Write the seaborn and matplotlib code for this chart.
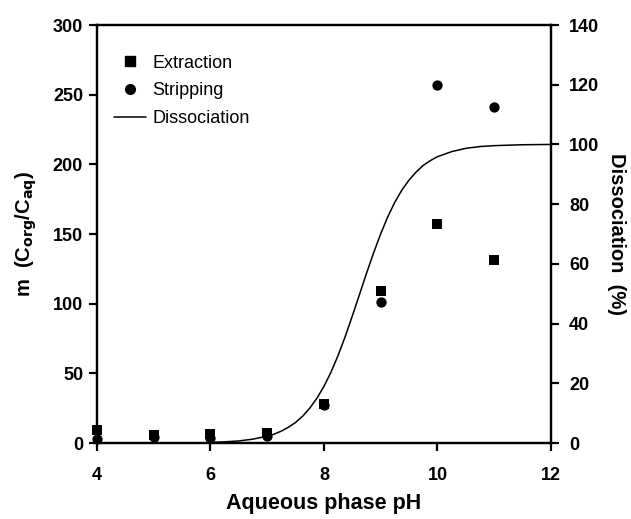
import matplotlib
matplotlib.use("Agg")
import matplotlib.pyplot as plt
from matplotlib.lines import Line2D
import seaborn as sns
import pandas as pd

# data
ph_points = [4, 5, 6, 7, 8, 9, 10, 11]
extraction = [9.3, 5.7, 6.5, 7.4, 28, 109, 157, 131]
stripping = [3, 4, 3.5, 5, 27, 101, 257, 241]

# dissociation curve (%)
ph_curve = [6.0, 6.25, 6.5, 6.75, 7.0, 7.125, 7.25, 7.375, 7.5, 7.625, 7.75, 7.875,
            8.0, 8.125, 8.25, 8.375, 8.5, 8.625, 8.75, 8.875, 9.0, 9.125, 9.25,
            9.375, 9.5, 9.625, 9.75, 9.875, 10.0, 10.25, 10.5, 10.75, 11.0, 11.5, 12.0]
dissociation = [0.2, 0.4, 0.7, 1.3, 2.3, 3.0, 4.0, 5.3, 6.9, 9.0, 11.7, 15.0,
                19.0, 23.8, 29.4, 35.7, 42.6, 49.7, 56.9, 63.7, 70.1, 75.8, 80.7,
                84.8, 88.1, 90.8, 93.0, 94.6, 95.9, 97.6, 98.7, 99.3, 99.6, 99.9, 100.0]

df_pts = pd.DataFrame({'pH': ph_points, 'Extraction': extraction, 'Stripping': stripping})
df_curve = pd.DataFrame({'pH': ph_curve, 'Dissociation': dissociation})

sns.set_style("ticks")
plt.rcParams['font.family'] = ['Liberation Sans', 'DejaVu Sans']
plt.rcParams['mathtext.default'] = 'bf'
for key in ['text.color', 'axes.labelcolor', 'xtick.color', 'ytick.color', 'axes.edgecolor']:
    plt.rcParams[key] = 'black'

fig = plt.figure(figsize=(6.31, 5.19), dpi=100)
ax = fig.add_axes([0.1537, 0.1464, 0.7195, 0.8054])
ax2 = ax.twinx()

sns.scatterplot(data=df_pts, x='pH', y='Extraction', ax=ax, marker='s', s=60,
                color='black', edgecolor='black', linewidth=0, clip_on=False,
                zorder=4, legend=False)
sns.scatterplot(data=df_pts, x='pH', y='Stripping', ax=ax, marker='o', s=55,
                color='black', edgecolor='black', linewidth=0, clip_on=False,
                zorder=3, legend=False)
sns.lineplot(data=df_curve, x='pH', y='Dissociation', ax=ax2, color='black',
             linewidth=1.1, legend=False)

ax.set_xlim(4, 12)
ax.set_ylim(0, 300)
ax2.set_ylim(0, 140)
ax.set_xticks([4, 6, 8, 10, 12])
ax.set_yticks(range(0, 301, 50))
ax2.set_yticks(range(0, 141, 20))

for a in (ax, ax2):
    for sp in a.spines.values():
        sp.set_visible(True)
        sp.set_linewidth(1.6)
        sp.set_color('black')
    a.tick_params(direction='out', width=1.6, length=6, labelsize=13, colors='black')
    for lab in a.get_xticklabels() + a.get_yticklabels():
        lab.set_fontweight('bold')
ax.tick_params(axis='x', pad=11)
ax.tick_params(axis='y', pad=4)
ax2.tick_params(axis='y', pad=7)

ax.set_xlabel('Aqueous phase pH', fontsize=15.5, fontweight='bold', labelpad=7)
ax.set_ylabel(r'm  (C$_{org}$/C$_{aq}$)', fontsize=14.5, fontweight='bold', labelpad=10)
ax2.set_ylabel('Dissociation  (%)', fontsize=14.5, fontweight='bold', rotation=270, labelpad=19)

handles = [Line2D([], [], marker='s', color='black', linestyle='none', markersize=7),
           Line2D([], [], marker='o', color='black', linestyle='none', markersize=7),
           Line2D([], [], color='black', linewidth=1.1)]
ax2.legend(handles, ['Extraction', 'Stripping', 'Dissociation'], loc='upper left',
           bbox_to_anchor=(0.013, 0.955), frameon=False, fontsize=13,
           handlelength=1.8, handletextpad=0.35, labelspacing=0.6, borderaxespad=0.2)

fig.savefig('out.png', dpi=100)
